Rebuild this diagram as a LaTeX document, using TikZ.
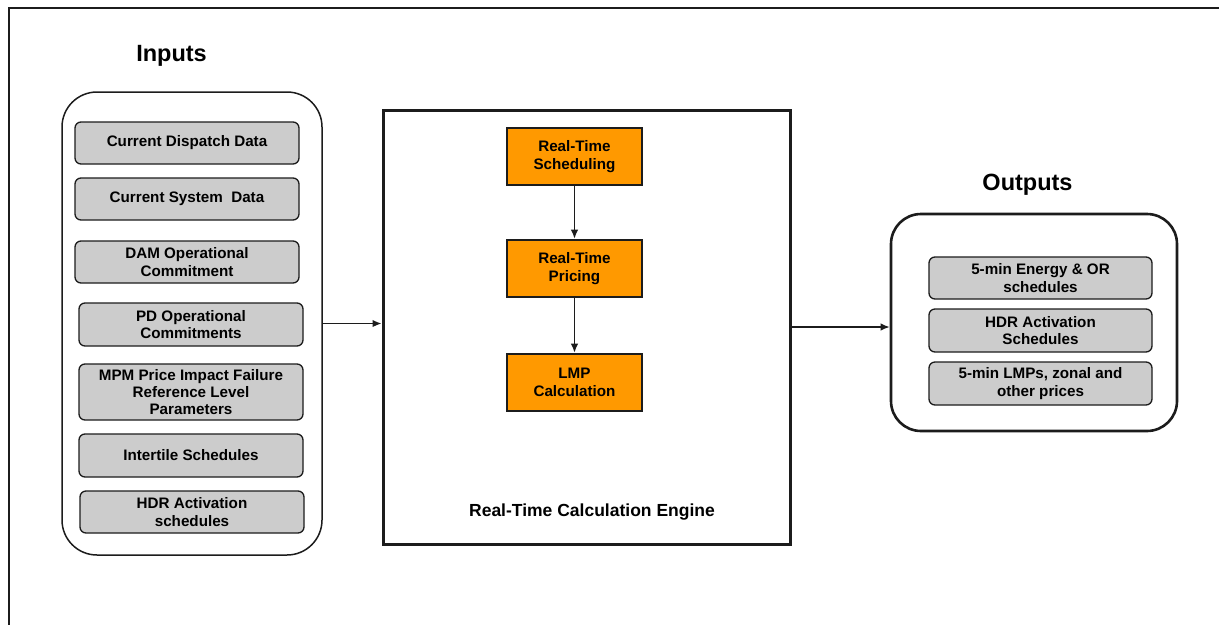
\documentclass[tikz,border=0pt]{standalone}
\usepackage{fontspec}
\setmainfont{Liberation Sans}
\usetikzlibrary{arrows.meta}
\definecolor{boxgray}{HTML}{CCCCCC}
\definecolor{engorange}{HTML}{FF9900}
\definecolor{edgeink}{HTML}{1C1C1C}

\begin{document}
\begin{tikzpicture}[x=1pt,y=-1pt,
  txt/.style={font=\fontsize{15.2}{17.4}\selectfont\bfseries, align=center},
  item/.style={txt, draw=edgeink, line width=1.3pt, fill=boxgray, rounded corners=6pt,
    inner sep=0pt, minimum width=224pt, minimum height=42pt},
  proc/.style={txt, draw=edgeink, line width=2.6pt, fill=engorange,
    inner sep=0pt, minimum width=135pt, minimum height=57pt},
  title/.style={font=\fontsize{23.5}{26}\selectfont\bfseries},
  flow/.style={draw=edgeink, line width=1.4pt, -{Latex[length=9pt,width=7.5pt]}}
]
\useasboundingbox (0,0) rectangle (1219,625);

% page frame (top and left rules)
\draw[edgeink, line width=1.5pt] (1219,8) -- (9,8) -- (9,625);

% ---- inputs ----
\node[title] (intitle) at (171.5,56) {Inputs};
\node[draw=edgeink, line width=1.5pt, rounded corners=35pt, inner sep=0pt,
      minimum width=260pt, minimum height=463pt] (inbox) at (192,323.5) {};
\node[item] (in1) at (187,143) {Current Dispatch Data};
\node[item] (in2) at (187,199) {Current System\ \ Data};
\node[item] (in3) at (187,262) {DAM Operational\\Commitment};
\node[item, minimum height=43pt] (in4) at (191,324.5) {PD Operational\\Commitments};
\node[item, minimum height=56pt] (in5) at (191,392) {MPM Price Impact Failure\\Reference Level\\Parameters};
\node[item, minimum height=43pt] (in6) at (191,455.5) {Intertile Schedules};
\node[item] (in7) at (192,512) {HDR Activation\\schedules};

% ---- calculation engine ----
\node[draw=edgeink, line width=3pt, inner sep=0pt,
      minimum width=407pt, minimum height=434pt] (engine) at (586.5,327) {};
\node[proc] (rts) at (574.5,156.5) {Real-Time\\Scheduling};
\node[proc] (rtp) at (574.5,268.5) {Real-Time\\Pricing};
\node[proc] (lmp) at (574.5,382.5) {LMP\\Calculation};
\node[font=\fontsize{17.5}{20}\selectfont\bfseries] (englabel) at (592,512) {Real-Time Calculation Engine};

% ---- outputs ----
\node[title] (outtitle) at (1027.5,185) {Outputs};
\node[draw=edgeink, line width=2.6pt, rounded corners=30pt, inner sep=0pt,
      minimum width=286pt, minimum height=217pt] (outbox) at (1034,322.5) {};
\node[item, minimum width=223pt] (out1) at (1040.5,278) {5-min Energy \& OR\\schedules};
\node[item, minimum width=223pt, minimum height=43pt] (out2) at (1040.5,330.5) {HDR Activation\\Schedules};
\node[item, minimum width=223pt, minimum height=43pt] (out3) at (1040.5,383.5) {5-min LMPs, zonal and\\other prices};

% ---- connectors ----
\draw[flow] (inbox.east) -- (inbox.east -| engine.west);
\draw[flow] (rts) -- (rtp);
\draw[flow] (rtp) -- (lmp);
\draw[flow] (engine.east) -- (engine.east -| outbox.west);
\end{tikzpicture}
\end{document}
